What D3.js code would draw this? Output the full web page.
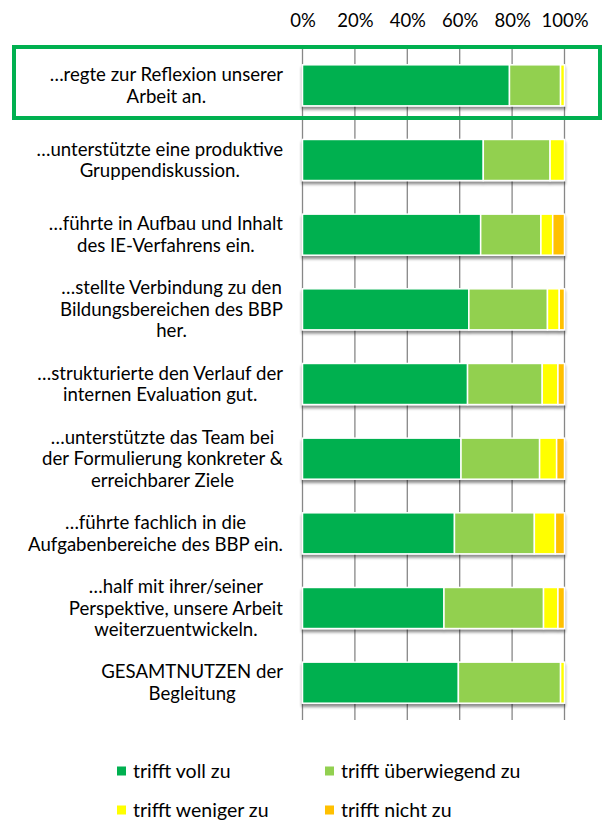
<!DOCTYPE html>
<html>
<head>
<meta charset="utf-8">
<script src="https://cdn.jsdelivr.net/npm/d3@7"></script>
<style>
  body { margin: 0; background: #fff; }
  svg { display: block; font-family: Lato, "Open Sans", sans-serif; }
</style>
</head>
<body>
<div id="chart"></div>
<script>
// categories (one per row, top to bottom), with line breaks as in the original
var categories = [
  ['…regte zur Reflexion unserer', 'Arbeit an.'],
  ['…unterstützte eine produktive', 'Gruppendiskussion.'],
  ['…führte in Aufbau und Inhalt', 'des IE-Verfahrens ein.'],
  ['…stellte Verbindung zu den', 'Bildungsbereichen des BBP', 'her.'],
  ['…strukturierte den Verlauf der', 'internen Evaluation gut.'],
  ['…unterstützte das Team bei', 'der Formulierung konkreter &', 'erreichbarer Ziele'],
  ['…führte fachlich in die', 'Aufgabenbereiche des BBP ein.'],
  ['…half mit ihrer/seiner', 'Perspektive, unsere Arbeit', 'weiterzuentwickeln.'],
  ['GESAMTNUTZEN der', 'Begleitung']
];

var seriesNames = ['trifft voll zu', 'trifft überwiegend zu', 'trifft weniger zu', 'trifft nicht zu'];

// percentages per series, same order as categories
var voll        = [79,   69,   68,  63.5, 63,  60.5, 58,  54,  59.5];
var ueberwiegend = [19.5, 25.5, 23,  30,  28.5, 30,  30.5, 38,  39];
var weniger     = [1.5,  5.5,  4.5, 4.5, 6,   6.5,  8,   5.5, 1.5];
var nicht       = [0,    0,    4.5, 2,   2.5, 3,    3.5, 2.5, 0];

var tickValues = [0, 0.2, 0.4, 0.6, 0.8, 1];

var colors = ['#00B050', '#92D050', '#FFFF00', '#FFC000'];

var width = 603, height = 820;

var svg = d3.select('#chart').append('svg')
  .attr('width', width)
  .attr('height', height);

var defs = svg.append('defs');
var shadow = defs.append('filter').attr('id', 'shadow')
  .attr('x', '-5%').attr('y', '-20%').attr('width', '110%').attr('height', '160%');
shadow.append('feGaussianBlur').attr('in', 'SourceAlpha').attr('stdDeviation', 1.8);
shadow.append('feOffset').attr('dx', 0).attr('dy', 2.5).attr('result', 'off');
shadow.append('feComponentTransfer').append('feFuncA').attr('type', 'linear').attr('slope', 0.45);
var merge = shadow.append('feMerge');
merge.append('feMergeNode');
merge.append('feMergeNode').attr('in', 'SourceGraphic');

// build rows for the stack
var rows = categories.map(function (c, i) {
  var total = voll[i] + ueberwiegend[i] + weniger[i] + nicht[i];
  return {
    idx: i,
    s0: voll[i] / total,
    s1: ueberwiegend[i] / total,
    s2: weniger[i] / total,
    s3: nicht[i] / total
  };
});

var stack = d3.stack().keys(['s0', 's1', 's2', 's3']);
var stacked = stack(rows);

var x = d3.scaleLinear().domain([0, 1]).range([302.5, 564.5]);
var y = d3.scaleBand()
  .domain(d3.range(categories.length))
  .range([48, 720])
  .paddingInner(0.45)
  .paddingOuter(0.225);

// gridlines
svg.append('g')
  .selectAll('line')
  .data(tickValues)
  .join('line')
  .attr('x1', d => x(d)).attr('x2', d => x(d))
  .attr('y1', 48).attr('y2', 720)
  .attr('stroke', '#878787')
  .attr('stroke-width', 1.3);

// top axis
var xAxis = svg.append('g')
  .attr('transform', 'translate(0,27)')
  .call(d3.axisTop(x).tickValues(tickValues).tickFormat(d3.format('.0%')).tickSize(0).tickPadding(0));
xAxis.select('.domain').remove();
xAxis.selectAll('text')
  .attr('font-size', 18.5)
  .attr('font-family', 'Lato, "Open Sans", sans-serif')
  .attr('fill', '#000');

// bars
var layers = svg.append('g').attr('filter', 'url(#shadow)')
  .selectAll('g')
  .data(stacked)
  .join('g')
  .attr('fill', (d, i) => colors[i]);

layers.selectAll('rect')
  .data(d => d)
  .join('rect')
  .attr('x', d => x(d[0]))
  .attr('width', d => Math.max(0, x(d[1]) - x(d[0])))
  .attr('y', d => y(d.data.idx))
  .attr('height', y.bandwidth())
  .attr('stroke', '#fff')
  .attr('stroke-width', 1.5);

// category labels: wrapped block, lines centred, block right-aligned
var labelRight = 283;
var lineH = 21.5;
var labels = svg.append('g')
  .selectAll('text')
  .data(categories)
  .join('text')
  .attr('font-size', 18.6)
  .attr('fill', '#000')
  .attr('text-anchor', 'middle');

labels.each(function (lines, i) {
  var t = d3.select(this);
  var cy = y(i) + y.bandwidth() / 2;
  var y0 = cy - (lines.length - 1) * lineH / 2;
  lines.forEach(function (l, j) {
    t.append('tspan').attr('y', y0 + j * lineH).attr('dy', '0.35em').text(l);
  });
  var maxW = 0;
  t.selectAll('tspan').each(function () {
    maxW = Math.max(maxW, this.getComputedTextLength());
  });
  t.selectAll('tspan').attr('x', labelRight - maxW / 2);
});

// highlight box around the first row
svg.append('rect')
  .attr('x', 14).attr('y', 47)
  .attr('width', 586).attr('height', 71)
  .attr('fill', 'none')
  .attr('stroke', '#00B050')
  .attr('stroke-width', 4);

// legend
var legendPos = [[117, 771], [325, 771], [117, 810], [325, 810]];
var legend = svg.append('g')
  .selectAll('g')
  .data(seriesNames)
  .join('g')
  .attr('transform', (d, i) => 'translate(' + legendPos[i][0] + ',' + legendPos[i][1] + ')');
legend.append('rect')
  .attr('x', 0).attr('y', -4.5)
  .attr('width', 9).attr('height', 9)
  .attr('fill', (d, i) => colors[i]);
legend.append('text')
  .attr('x', 16).attr('dy', '0.35em')
  .attr('font-size', 19.5)
  .attr('fill', '#000')
  .text(d => d);
</script>
</body>
</html>
